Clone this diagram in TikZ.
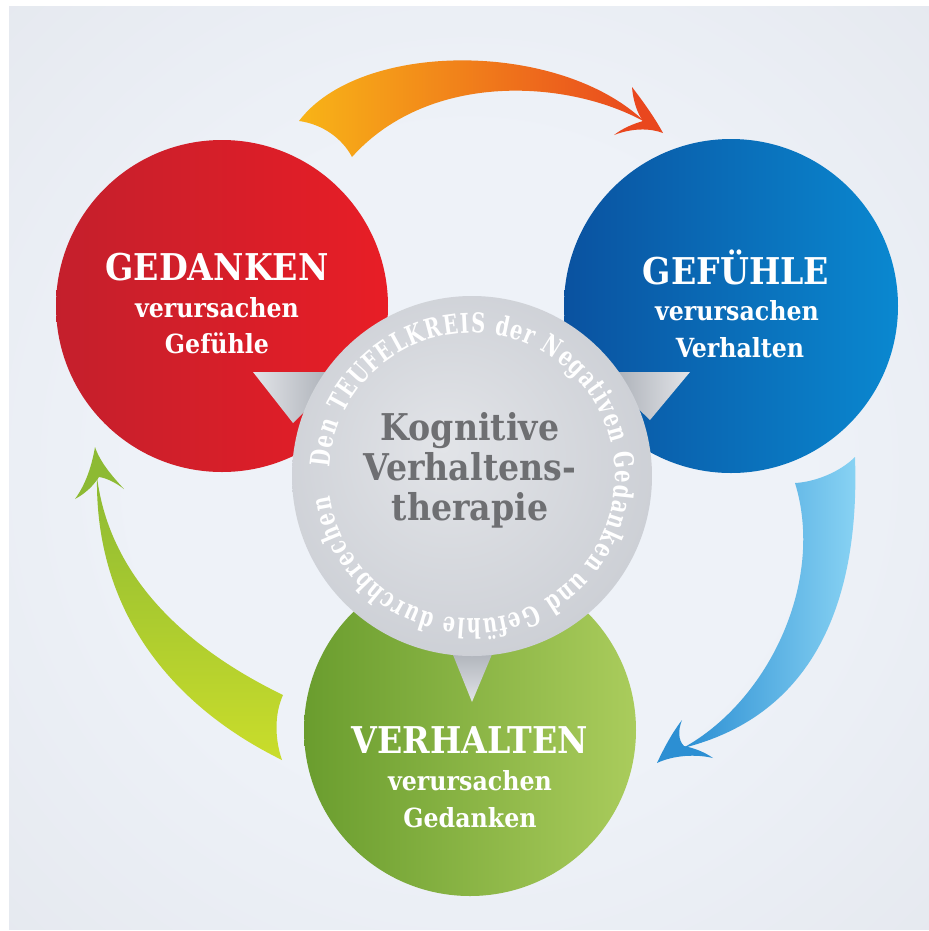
\documentclass[tikz,border=0pt]{standalone}
\usepackage{fontspec}
\setmainfont{DejaVu Serif Condensed}
\newfontfamily\ringfam{DejaVu Serif Condensed}[FakeStretch=0.8]
\usetikzlibrary{decorations.text}
\definecolor{bgIn}{HTML}{EEF2F8}
\definecolor{bgOut}{HTML}{DFE2E9}
\definecolor{redA}{HTML}{C41F2C}
\definecolor{redB}{HTML}{E81E26}
\definecolor{blueA}{HTML}{0A52A0}
\definecolor{blueB}{HTML}{0A88D0}
\definecolor{greenA}{HTML}{6A9D2E}
\definecolor{greenB}{HTML}{AACC5C}
\definecolor{grayIn}{HTML}{E2E4E8}
\definecolor{grayMid}{HTML}{CBCED4}
\definecolor{grayOut}{HTML}{A2A7AF}
\definecolor{grayText}{HTML}{6E6F72}
\definecolor{orangeA}{HTML}{F8B417}
\definecolor{orangeB}{HTML}{E9471E}
\definecolor{skyA}{HTML}{2C8FD3}
\definecolor{skyB}{HTML}{8AD4F4}
\definecolor{limeA}{HTML}{8DBA33}
\definecolor{limeB}{HTML}{CADD2B}
\pgfdeclareradialshading{bgglow}{\pgfpoint{0bp}{0bp}}{color(0bp)=(bgIn); color(18bp)=(bgIn); color(50bp)=(bgOut)}
\pgfdeclareradialshading{grayball}{\pgfpoint{-4bp}{4bp}}{color(0bp)=(grayIn); color(30bp)=(grayMid); color(50bp)=(grayOut)}
\newcommand\ringfont{\ringfam\fontsize{15.5}{15.5}\selectfont\bfseries}
\begin{document}
\begin{tikzpicture}[x=0.02cm, y=-0.02cm,
    titel/.style={anchor=base, text=white, font=\fontsize{21}{21}\selectfont\bfseries},
    unter/.style={anchor=base, text=white, font=\fontsize{15}{15}\selectfont\bfseries},
    mitte/.style={anchor=base, text=grayText, font=\fontsize{21}{21}\selectfont\bfseries}]
  % Hintergrund
  \useasboundingbox (0,0) rectangle (929,931);
  \shade[shading=bgglow] (9,6) rectangle (929,929);
  % Pfeil oben
  \shade[left color=orangeA, right color=orangeB] (299,121) .. controls (360,40) and (560,40) .. (645,122)
    .. controls (570,80) and (430,70) .. (352,157) .. controls (342,138) and (322,124) .. (299,121) -- cycle;
  \fill[orangeB] (663,133) .. controls (655,118) and (642,100) .. (632,87) .. controls (633,100) and (637,113) .. (643,121)
    .. controls (633,124) and (623,128) .. (614,135) .. controls (632,128) and (650,128) .. (663,133) -- cycle;
  % Pfeil rechts
  \shade[left color=skyA, right color=skyB] (855,457) .. controls (860,600) and (815,715) .. (683,748)
    .. controls (770,700) and (825,580) .. (795,483) .. controls (815,482) and (840,472) .. (855,457) -- cycle;
  \fill[skyA] (657,763) .. controls (664,748) and (672,733) .. (682,720) .. controls (678,730) and (678,740) .. (684,746)
    .. controls (693,748) and (703,751) .. (713,758) .. controls (696,754) and (674,755) .. (657,763) -- cycle;
  % Pfeil links
  \shade[top color=limeA, bottom color=limeB] (282,760) .. controls (170,705) and (95,610) .. (97,477)
    .. controls (110,580) and (190,650) .. (283,695) .. controls (274,715) and (275,740) .. (282,760) -- cycle;
  \fill[limeA] (95,447) .. controls (92,465) and (86,484) .. (75,499) .. controls (86,493) and (93,486) .. (99,477)
    .. controls (106,478) and (115,482) .. (124,489) .. controls (112,476) and (100,462) .. (95,447) -- cycle;
  % drei Kreise
  \shade[left color=redA, right color=redB] (222,306) circle (166);
  \shade[left color=blueA, right color=blueB] (731,306) circle (167);
  \shade[left color=greenA, right color=greenB] (470,730) circle (166);
  % Spitzen der Mitte
  \shade[left color=grayIn, right color=grayOut] (253,372) -- (345,372) -- (293,423) -- cycle;
  \shade[left color=grayOut, right color=grayIn] (600,372) -- (690,372) -- (650,420) -- cycle;
  \shade[top color=grayOut, bottom color=grayIn] (447,640) -- (498,640) -- (472,702) -- cycle;
  % Mitte
  \shade[shading=grayball] (472,476) circle (180);
  \path[decorate, decoration={text along path, text color=white, text align={fit to path},
      text={|\ringfont|Den TEUFELKREIS der Negativen Gedanken und Gefühle durchbrechen}}]
    ([shift={(472,476)}]183.5:143) arc (183.5:532:143);
  % Texte
  \node[titel] (gedT) at (217,280) {GEDANKEN};
  \node[unter] (gedV) at (217,317) {verursachen};
  \node[unter] (gedO) at (217,353) {Gefühle};
  \node[titel] (gefT) at (736,284) {GEFÜHLE};
  \node[unter] (gefV) at (737,320) {verursachen};
  \node[unter] (gefO) at (740,357) {Verhalten};
  \node[titel] (verT) at (470,753) {VERHALTEN};
  \node[unter] (verV) at (470,790) {verursachen};
  \node[unter] (verO) at (470,827) {Gedanken};
  \node[mitte] (kogA) at (470,440) {Kognitive};
  \node[mitte] (kogB) at (470,480) {Verhaltens-};
  \node[mitte] (kogC) at (470,520) {therapie};
\end{tikzpicture}
\end{document}
